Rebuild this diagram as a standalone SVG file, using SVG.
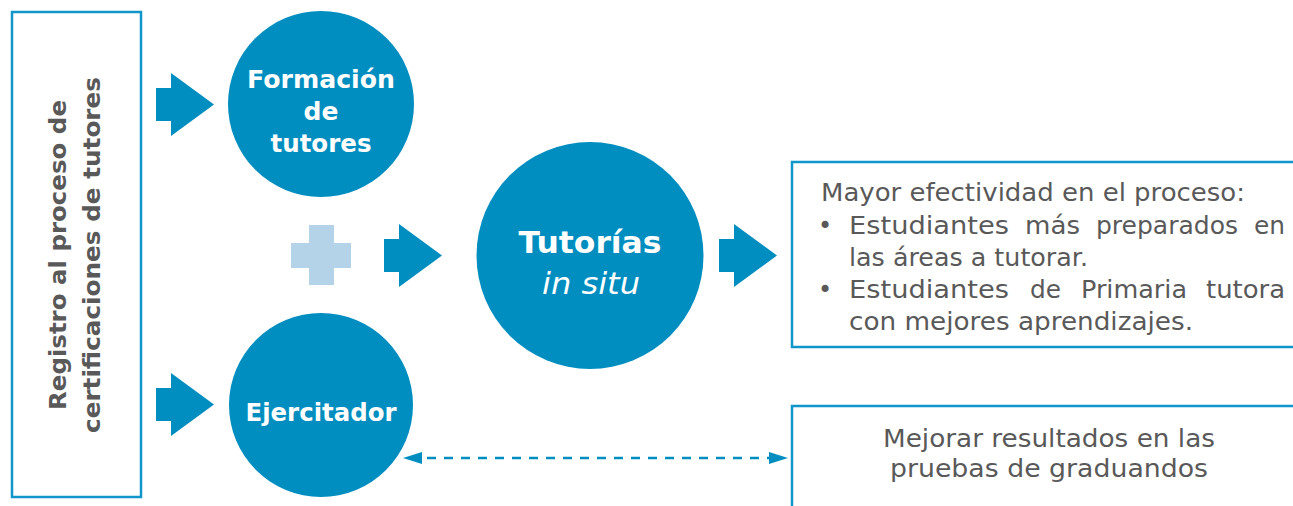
<svg xmlns="http://www.w3.org/2000/svg" width="1293" height="506" viewBox="0 0 1293 506">
<style>
.box{fill:#fff;stroke:#1196cc;stroke-width:2.5}
.circ{fill:#008ec0}
.arrow{fill:#008ec0}
.wt{fill:#fff;font-family:"DejaVu Sans","Open Sans",sans-serif;font-weight:bold;text-anchor:middle}
.wi{fill:#fff;font-family:"DejaVu Sans","Open Sans",sans-serif;font-weight:normal;font-style:italic;text-anchor:middle}
.gt{fill:#595959;font-family:"DejaVu Sans","Open Sans",sans-serif;font-size:24px}
.gb{fill:#595959;font-family:"DejaVu Sans","Open Sans",sans-serif;font-weight:bold;font-size:23px;text-anchor:middle}
.dash{stroke:#008ec0;stroke-width:2.5;stroke-dasharray:9 8;fill:none}
</style>
<defs>
<path id="arr" d="M0,-16.5 H15 V-31.5 L58,0 L15,31.5 V16.5 H0 Z"/>
<marker id="head" viewBox="0 0 19 12" refX="12" refY="6" markerWidth="19" markerHeight="12" markerUnits="userSpaceOnUse" orient="auto-start-reverse">
<path d="M0,0 L19,6 L0,12 Z" fill="#008ec0"/>
</marker>
</defs>

<g id="registro">
<rect class="box" x="12" y="12" width="129" height="485"/>
<text class="gb" transform="translate(66,255) rotate(-90)" textLength="310" lengthAdjust="spacingAndGlyphs">Registro al proceso de</text>
<text class="gb" transform="translate(100,255) rotate(-90)" textLength="356" lengthAdjust="spacingAndGlyphs">certificaciones de tutores</text>
</g>

<g id="formacion">
<circle class="circ" cx="321" cy="104" r="93"/>
<text class="wt" font-size="25" x="321" y="88" textLength="148" lengthAdjust="spacingAndGlyphs">Formación</text>
<text class="wt" font-size="25" x="321" y="120">de</text>
<text class="wt" font-size="25" x="321" y="152" textLength="101" lengthAdjust="spacingAndGlyphs">tutores</text>
</g>

<g id="plus">
<rect x="309" y="225" width="25" height="60" fill="#b4d2e8"/>
<rect x="291" y="243" width="60" height="25" fill="#b4d2e8"/>
</g>

<g id="ejercitador">
<circle class="circ" cx="321" cy="405" r="92"/>
<text class="wt" font-size="25" x="321" y="421" textLength="151" lengthAdjust="spacingAndGlyphs">Ejercitador</text>
</g>

<g id="tutorias">
<circle class="circ" cx="590" cy="255.5" r="113.5"/>
<text class="wt" font-size="31" x="590" y="253" textLength="143" lengthAdjust="spacingAndGlyphs">Tutorías</text>
<text class="wi" font-size="31" x="591" y="294" textLength="98" lengthAdjust="spacingAndGlyphs">in situ</text>
</g>

<g id="efectividad">
<rect class="box" x="792" y="162" width="520" height="185"/>
<text class="gt" x="821" y="201" textLength="424" lengthAdjust="spacingAndGlyphs">Mayor efectividad en el proceso:</text>
<text class="gt" x="818" y="234">•</text>
<text class="gt" x="849" y="234" textLength="160" lengthAdjust="spacingAndGlyphs">Estudiantes</text>
<text class="gt" x="1025" y="234" textLength="55" lengthAdjust="spacingAndGlyphs">más</text>
<text class="gt" x="1096" y="234" textLength="142" lengthAdjust="spacingAndGlyphs">preparados</text>
<text class="gt" x="1254" y="234" textLength="31" lengthAdjust="spacingAndGlyphs">en</text>
<text class="gt" x="849" y="266" textLength="239" lengthAdjust="spacingAndGlyphs">las áreas a tutorar.</text>
<text class="gt" x="818" y="298">•</text>
<text class="gt" x="849" y="298" textLength="160" lengthAdjust="spacingAndGlyphs">Estudiantes</text>
<text class="gt" x="1030" y="298" textLength="31" lengthAdjust="spacingAndGlyphs">de</text>
<text class="gt" x="1081" y="298" textLength="106" lengthAdjust="spacingAndGlyphs">Primaria</text>
<text class="gt" x="1206" y="298" textLength="79" lengthAdjust="spacingAndGlyphs">tutora</text>
<text class="gt" x="849" y="330" textLength="344" lengthAdjust="spacingAndGlyphs">con mejores aprendizajes.</text>
</g>

<g id="resultados">
<rect class="box" x="792" y="406" width="520" height="120"/>
<text class="gt" x="1049" y="447" text-anchor="middle" textLength="332" lengthAdjust="spacingAndGlyphs">Mejorar resultados en las</text>
<text class="gt" x="1049" y="477" text-anchor="middle" textLength="318" lengthAdjust="spacingAndGlyphs">pruebas de graduandos</text>
</g>

<g id="connectors">
<use href="#arr" class="arrow" x="156" y="104.5"/>
<use href="#arr" class="arrow" x="156" y="404.5"/>
<use href="#arr" class="arrow" x="384" y="255.5"/>
<use href="#arr" class="arrow" x="719" y="255.5"/>
<line class="dash" x1="410" y1="458" x2="781" y2="458" marker-start="url(#head)" marker-end="url(#head)"/>
</g>
</svg>
